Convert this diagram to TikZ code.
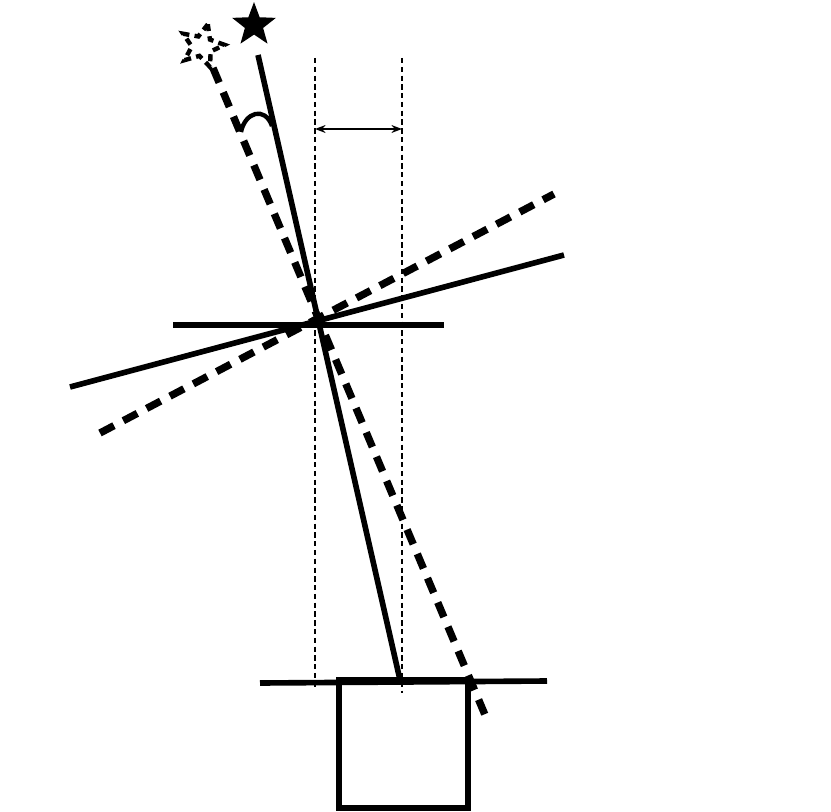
\documentclass[tikz,border=0pt]{standalone}
\usetikzlibrary{shapes.geometric,arrows.meta}
\begin{document}
\begin{tikzpicture}[x=0.02cm,y=-0.02cm,
  solidline/.style={line width=3.2pt},
  dashline/.style={line width=4.2pt,dash pattern=on 9pt off 6pt},
  guide/.style={line width=0.8pt,dash pattern=on 3pt off 2pt}]
\useasboundingbox (0,0) rectangle (831,811);
\node (s1) [star,star points=5,star point ratio=2.4,fill=black,minimum size=0.92cm,inner sep=0pt] at (254,25) {};
\node (s2) [star,star points=5,star point ratio=2.2,draw,line width=2.5pt,dash pattern=on 4pt off 3pt,minimum size=0.9cm,inner sep=0pt,rotate=-15] at (202,46) {};
\coordinate (a1) at (258,55); \coordinate (a2) at (400,680);
\coordinate (b1) at (213,68); \coordinate (b2) at (488,722);
\draw[solidline] (a1) -- (a2);
\draw[dashline] (b1) -- (b2);
\draw[solidline] (173,325) -- (444,325);
\draw[solidline] (70,387) -- (564,255);
\draw[dashline] (100,433) -- (554,194);
\draw[guide] (315,58) -- (315,690);
\draw[guide] (402,58) -- (402,693);
\draw[line width=1pt,{Stealth[length=6pt]}-{Stealth[length=6pt]}] (315,129) -- (402,129);
\draw[solidline] (260,683) -- (547,681);
\draw[solidline] (339,680) rectangle (468,808);
\draw[line width=2.5pt] (241,132) .. controls (245,112) and (265,106) .. (272,126);
\end{tikzpicture}
\end{document}
